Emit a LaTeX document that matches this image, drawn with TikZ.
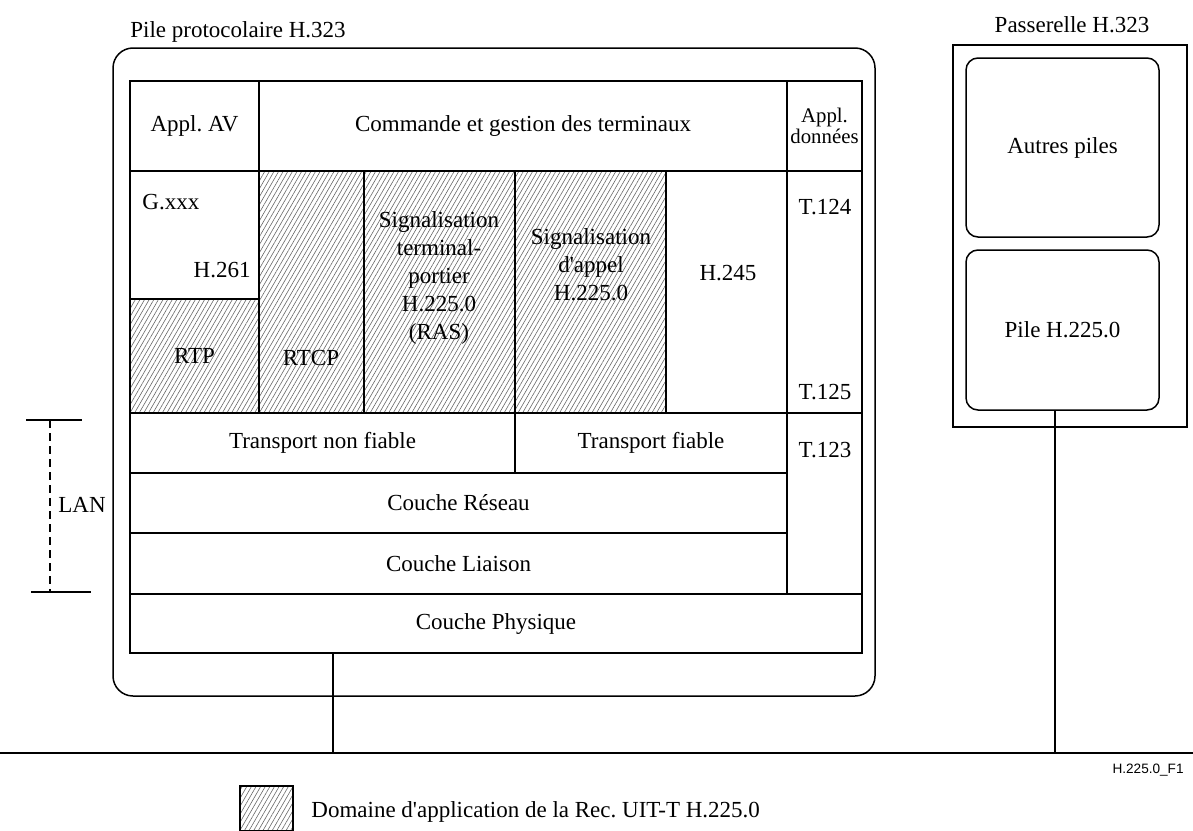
\documentclass[tikz,border=0pt]{standalone}
\usepackage{fontspec}
\setmainfont{Liberation Serif}
\setsansfont{Liberation Sans}
\usepackage{tikz}
\usetikzlibrary{patterns.meta}
\frenchspacing

% one box of the stack, given by its corners (picture units)
\newcommand\stackcell[7][]{%
  \node[cell,#1,minimum width={(#5-#3)*0.5pt},minimum height={(#6-#4)*0.5pt}]
    (#2) at ({(#3+#5)/2},{(#4+#6)/2}) {#7};}

\begin{document}
\begin{tikzpicture}[
  x=0.5pt, y=-0.5pt,
  cell/.style={draw, line width=0.75pt, inner sep=0pt, align=center,
               font=\fontsize{11.5}{14}\selectfont},
  hatch/.style={pattern={Lines[angle=60,distance=2pt,line width=0.3pt]},
                pattern color=black!60},
  lbl/.style={inner sep=0pt, align=center, font=\fontsize{11.5}{14}\selectfont},
  small/.style={font=\fontsize{10.4}{10.5}\selectfont},
  wire/.style={line width=0.75pt}
]
\useasboundingbox (0,0) rectangle (1193,830);

% Pile protocolaire
\node[lbl] (stack-t) at (238,32) {Pile protocolaire H.323};
\stackcell[rounded corners=10pt]{stack}{113}{48}{875}{696}{}

% Applications
\stackcell{av}{130}{81}{259}{171}{Appl. AV}
\stackcell{cmd}{259}{81}{787}{171}{Commande et gestion des terminaux}
\stackcell[small]{data}{787}{81}{862}{171}{Appl.\\données}

% Media and signalling
\stackcell{gxxx}{130}{171}{259}{299}{}
\node[lbl, anchor=west] (g) at (142,202) {G.xxx};
\node[lbl, anchor=east] (h261) at (251,270) {H.261};
\stackcell[hatch]{rtp}{130}{299}{259}{413}{RTP}
\stackcell[hatch]{rtcp}{259}{171}{364}{413}{}
\node[lbl] (rtcp-t) at (311,358) {RTCP};
\stackcell[hatch]{ras}{364}{171}{515}{413}{}
\node[lbl] (ras-t) at (439,278) {Signalisation\\terminal-\\portier\\H.225.0\\(RAS)};
\stackcell[hatch]{call}{515}{171}{666}{413}{}
\node[lbl] (call-t) at (591,265) {Signalisation\\d\textquotesingle appel\\H.225.0};
\stackcell{h245}{666}{171}{787}{413}{}
\node[lbl] (h245-t) at (728,273) {H.245};
\stackcell{t12x}{787}{171}{862}{413}{}
\node[lbl] (t124) at (825,207) {T.124};
\node[lbl] (t125) at (825,392) {T.125};

% Transport and lower layers
\stackcell{unrel}{130}{413}{515}{473}{Transport non fiable}
\stackcell{rel}{515}{413}{787}{473}{Transport fiable}
\stackcell{t123}{787}{413}{862}{594}{}
\node[lbl] (t123-t) at (825,450) {T.123};
\stackcell{net}{130}{473}{787}{533}{Couche Réseau}
\stackcell{link}{130}{533}{787}{594}{Couche Liaison}
\stackcell{phys}{130}{594}{862}{653}{Couche Physique}

% Passerelle
\node[lbl] (gw-t) at (1072,25) {Passerelle H.323};
\stackcell{gw}{953}{45}{1187}{427}{}
\stackcell[rounded corners=6pt]{other}{966}{58}{1159}{237}{Autres piles}
\stackcell[rounded corners=6pt]{gwpile}{966}{250}{1159}{410}{Pile H.225.0}

% LAN
\coordinate (bus-w) at (0,753);
\coordinate (bus-e) at (1193,753);
\coordinate (tap-a) at (333,753);
\coordinate (tap-b) at (1055,753);
\draw[wire] (bus-w) -- (bus-e);
\draw[wire] (phys.south -| tap-a) -- (tap-a);
\draw[wire] (gwpile.south -| tap-b) -- (tap-b);

\coordinate (lan-top) at (50,420);
\coordinate (lan-bot) at (50,592);
\draw[wire] (26,420) -- (82,420);
\draw[wire] (31,592) -- (91,592);
\draw[line width=1pt, dash pattern=on 4pt off 2.5pt] (lan-top) -- (lan-bot);
\node[lbl, anchor=west] (lan) at (58,505) {LAN};

\node[inner sep=0pt, anchor=east, font=\sffamily\fontsize{6.8}{8}\selectfont]
  (fig-id) at (1184,770) {H.225.0\_F1};

% Legend
\stackcell[hatch]{key}{240}{786}{293}{831}{}
\node[lbl, anchor=west] (key-t) at (311,812)
  {Domaine d\textquotesingle application de la Rec. UIT-T H.225.0};
\end{tikzpicture}
\end{document}
